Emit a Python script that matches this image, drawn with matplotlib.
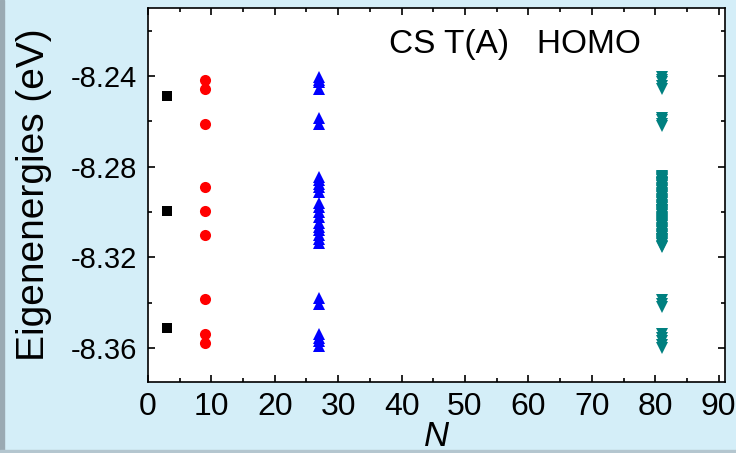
import matplotlib.pyplot as plt
from matplotlib.patches import Rectangle
from matplotlib.ticker import MultipleLocator

# eigenenergies (eV) for each system size N
n_sq = 3
e_sq = [-8.249, -8.2995, -8.351]

n_circ = 9
e_circ = [-8.2415, -8.2455, -8.2613, -8.289, -8.2997, -8.310, -8.3383, -8.354, -8.358]

n_tri = 27
e_tri = [-8.2405, -8.2415, -8.2425, -8.2455,
         -8.2585, -8.261,
         -8.2845, -8.286, -8.2875, -8.289, -8.291,
         -8.296, -8.298, -8.300, -8.302,
         -8.305, -8.3065, -8.308, -8.310, -8.312, -8.3135,
         -8.338, -8.3405,
         -8.354, -8.3555, -8.357, -8.359]

n_dtri = 81
e_dtri = [-8.2405, -8.2415, -8.2425, -8.2445, -8.2455,
          -8.2585, -8.2595, -8.261, -8.262,
          -8.2840, -8.2845, -8.2850, -8.2855, -8.2860, -8.2866, -8.2871, -8.2876, -8.2882, -8.2887,
          -8.2893, -8.2898, -8.2903, -8.2909, -8.2914, -8.2919, -8.2925, -8.2930, -8.2935, -8.2941,
          -8.2946, -8.2951, -8.2957, -8.2962, -8.2967, -8.2973, -8.2978, -8.2983, -8.2989, -8.2994,
          -8.2999, -8.3005, -8.3010, -8.3015, -8.3021, -8.3026, -8.3031, -8.3037, -8.3042, -8.3047,
          -8.3053, -8.3058, -8.3063, -8.3069, -8.3074, -8.3079, -8.3085, -8.3090, -8.3095, -8.3101,
          -8.3106, -8.3111, -8.3117, -8.3122, -8.3127, -8.3133, -8.3138, -8.3143, -8.3149, -8.3154,
          -8.2870, -8.2990, -8.3040, -8.3120,
          -8.339, -8.3405, -8.342,
          -8.354, -8.3555, -8.357, -8.3585, -8.360]

bg = '#d4eef8'
fig = plt.figure(figsize=(7.36, 4.53), dpi=100, facecolor=bg)
ax = fig.add_axes([0.201, 0.157, 0.784, 0.825])

# darker frame edges of the original screenshot
fig.patches.append(Rectangle((0, 0), 0.005, 1, transform=fig.transFigure, color='#9aaab3', zorder=0))
fig.patches.append(Rectangle((0, 0), 1, 0.006, transform=fig.transFigure, color='#b4c6cf', zorder=0))

ax.plot([n_sq] * len(e_sq), e_sq, 's', color='black', ms=7, mew=0)
ax.plot([n_circ] * len(e_circ), e_circ, 'o', color='red', ms=8, mew=0)
ax.plot([n_tri] * len(e_tri), e_tri, '^', color='blue', ms=8, mew=0)
ax.plot([n_dtri] * len(e_dtri), e_dtri, 'v', color='teal', ms=8, mew=0)

ax.set_xlim(0, 91)
ax.set_ylim(-8.375, -8.21)
ax.xaxis.set_major_locator(MultipleLocator(10))
ax.xaxis.set_minor_locator(MultipleLocator(5))
ax.yaxis.set_major_locator(MultipleLocator(0.04))
ax.yaxis.set_minor_locator(MultipleLocator(0.02))
ax.tick_params(which='both', direction='in', top=True, right=True, width=1.2)
ax.tick_params(which='major', length=5)
ax.tick_params(which='minor', length=3)
for s in ax.spines.values():
    s.set_linewidth(1.2)

ax.set_yticks([-8.24, -8.28, -8.32, -8.36])
ax.set_yticklabels(['-8.24', '-8.28', '-8.32', '-8.36'], fontfamily='Liberation Sans', fontsize=21)
ax.set_xticks(range(0, 100, 10))
ax.set_xticklabels([str(v) for v in range(0, 100, 10)], fontfamily='Liberation Sans', fontsize=23)
ax.tick_params(axis='x', pad=7)
ax.tick_params(axis='y', pad=8)

ax.set_ylabel('Eigenenergies (eV)', fontfamily='Liberation Sans', fontsize=28, labelpad=13)
ax.set_xlabel('N', fontfamily='Liberation Sans', fontstyle='italic', fontsize=25, labelpad=-1)

ax.text(38, -8.2262, 'CS T(A)   HOMO', fontfamily='Liberation Sans', fontsize=24,
        ha='left', va='center')

fig.savefig('out.png', dpi=100, facecolor=bg)
